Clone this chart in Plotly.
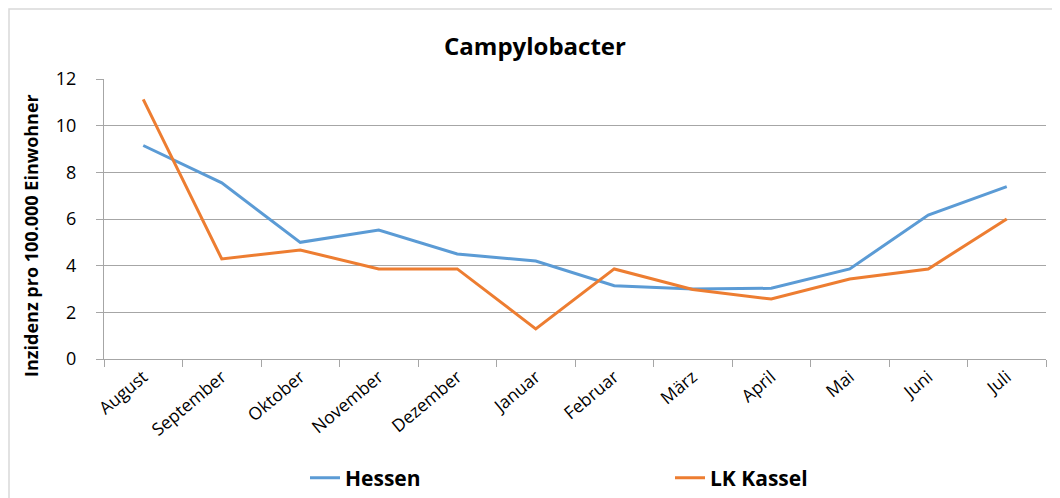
import plotly.graph_objects as go

months = ["August", "September", "Oktober", "November", "Dezember", "Januar",
          "Februar", "März", "April", "Mai", "Juni", "Juli"]
hessen = [9.15, 7.55, 5.0, 5.53, 4.5, 4.2, 3.14, 3.0, 3.03, 3.86, 6.17, 7.39]
lk_kassel = [11.13, 4.29, 4.67, 3.86, 3.86, 1.29, 3.86, 2.98, 2.57, 3.43, 3.86, 6.0]

FONT = "Open Sans, sans-serif"

fig = go.Figure()
fig.add_trace(go.Scatter(x=months, y=hessen, mode="lines", name="<b>Hessen</b>",
                         line=dict(color="#5b9bd5", width=3)))
fig.add_trace(go.Scatter(x=months, y=lk_kassel, mode="lines", name="<b>LK Kassel</b>",
                         line=dict(color="#ed7d31", width=3)))

OFF = 8  # page body margin
W, H = 1060 - OFF, 498 - OFF
# desired plot area in screen pixels: x 104..1046, y 79..359
L, T = 104 - OFF, 79 - OFF
R = W - (1046 - OFF)
B = H - (359 - OFF)
pw, ph = W - L - R, H - T - B


def px_x(sx):
    return (sx - OFF - L) / pw


def px_y(sy):
    return 1 - (sy - OFF - T) / ph


fig.update_layout(
    width=W, height=H,
    margin=dict(l=L, r=R, t=T, b=B, autoexpand=False),
    paper_bgcolor="white", plot_bgcolor="white",
    font=dict(family=FONT, size=17, color="black"),
    title=dict(text="<b>Campylobacter</b>", x=px_x(535), xref="paper",
               xanchor="center", y=1 - (47 - OFF) / H, yanchor="middle",
               font=dict(family=FONT, size=24, color="black")),
    showlegend=True,
    legend=dict(orientation="h", x=px_x(305), xanchor="left",
                y=px_y(478), yanchor="middle", yref="paper",
                entrywidth=320, entrywidthmode="pixels",
                font=dict(family=FONT, size=21, color="black"),
                bgcolor="rgba(0,0,0,0)"),
    xaxis=dict(type="category", showgrid=False, showline=True, linecolor="#a6a6a6",
               linewidth=1, ticks="outside", tickson="boundaries", ticklen=7,
               tickcolor="#a6a6a6", tickangle=-40, tickfont=dict(family=FONT, size=17.5),
               range=[-0.5, 11.5], fixedrange=True),
    yaxis=dict(range=[0, 12], dtick=2, showgrid=True, gridcolor="#a6a6a6", gridwidth=1,
               showline=True, linecolor="#a6a6a6", ticks="outside", ticklen=7,
               tickcolor="#a6a6a6", tickfont=dict(family=FONT, size=18), zeroline=False,
               ticklabelstandoff=16),
    annotations=[dict(text="<b>Inzidenz pro 100.000 Einwohner</b>", textangle=-90,
                      xref="paper", yref="paper", x=px_x(31), y=px_y(236),
                      xanchor="center", yanchor="middle", showarrow=False,
                      font=dict(family=FONT, size=18, color="black"))],
    shapes=[dict(type="rect", xref="paper", yref="paper",
                 x0=px_x(9), x1=px_x(1070),
                 y0=px_y(505), y1=px_y(9),
                 line=dict(color="#d9d9d9", width=1.5), layer="below")],
)

fig.write_html("out.html")
